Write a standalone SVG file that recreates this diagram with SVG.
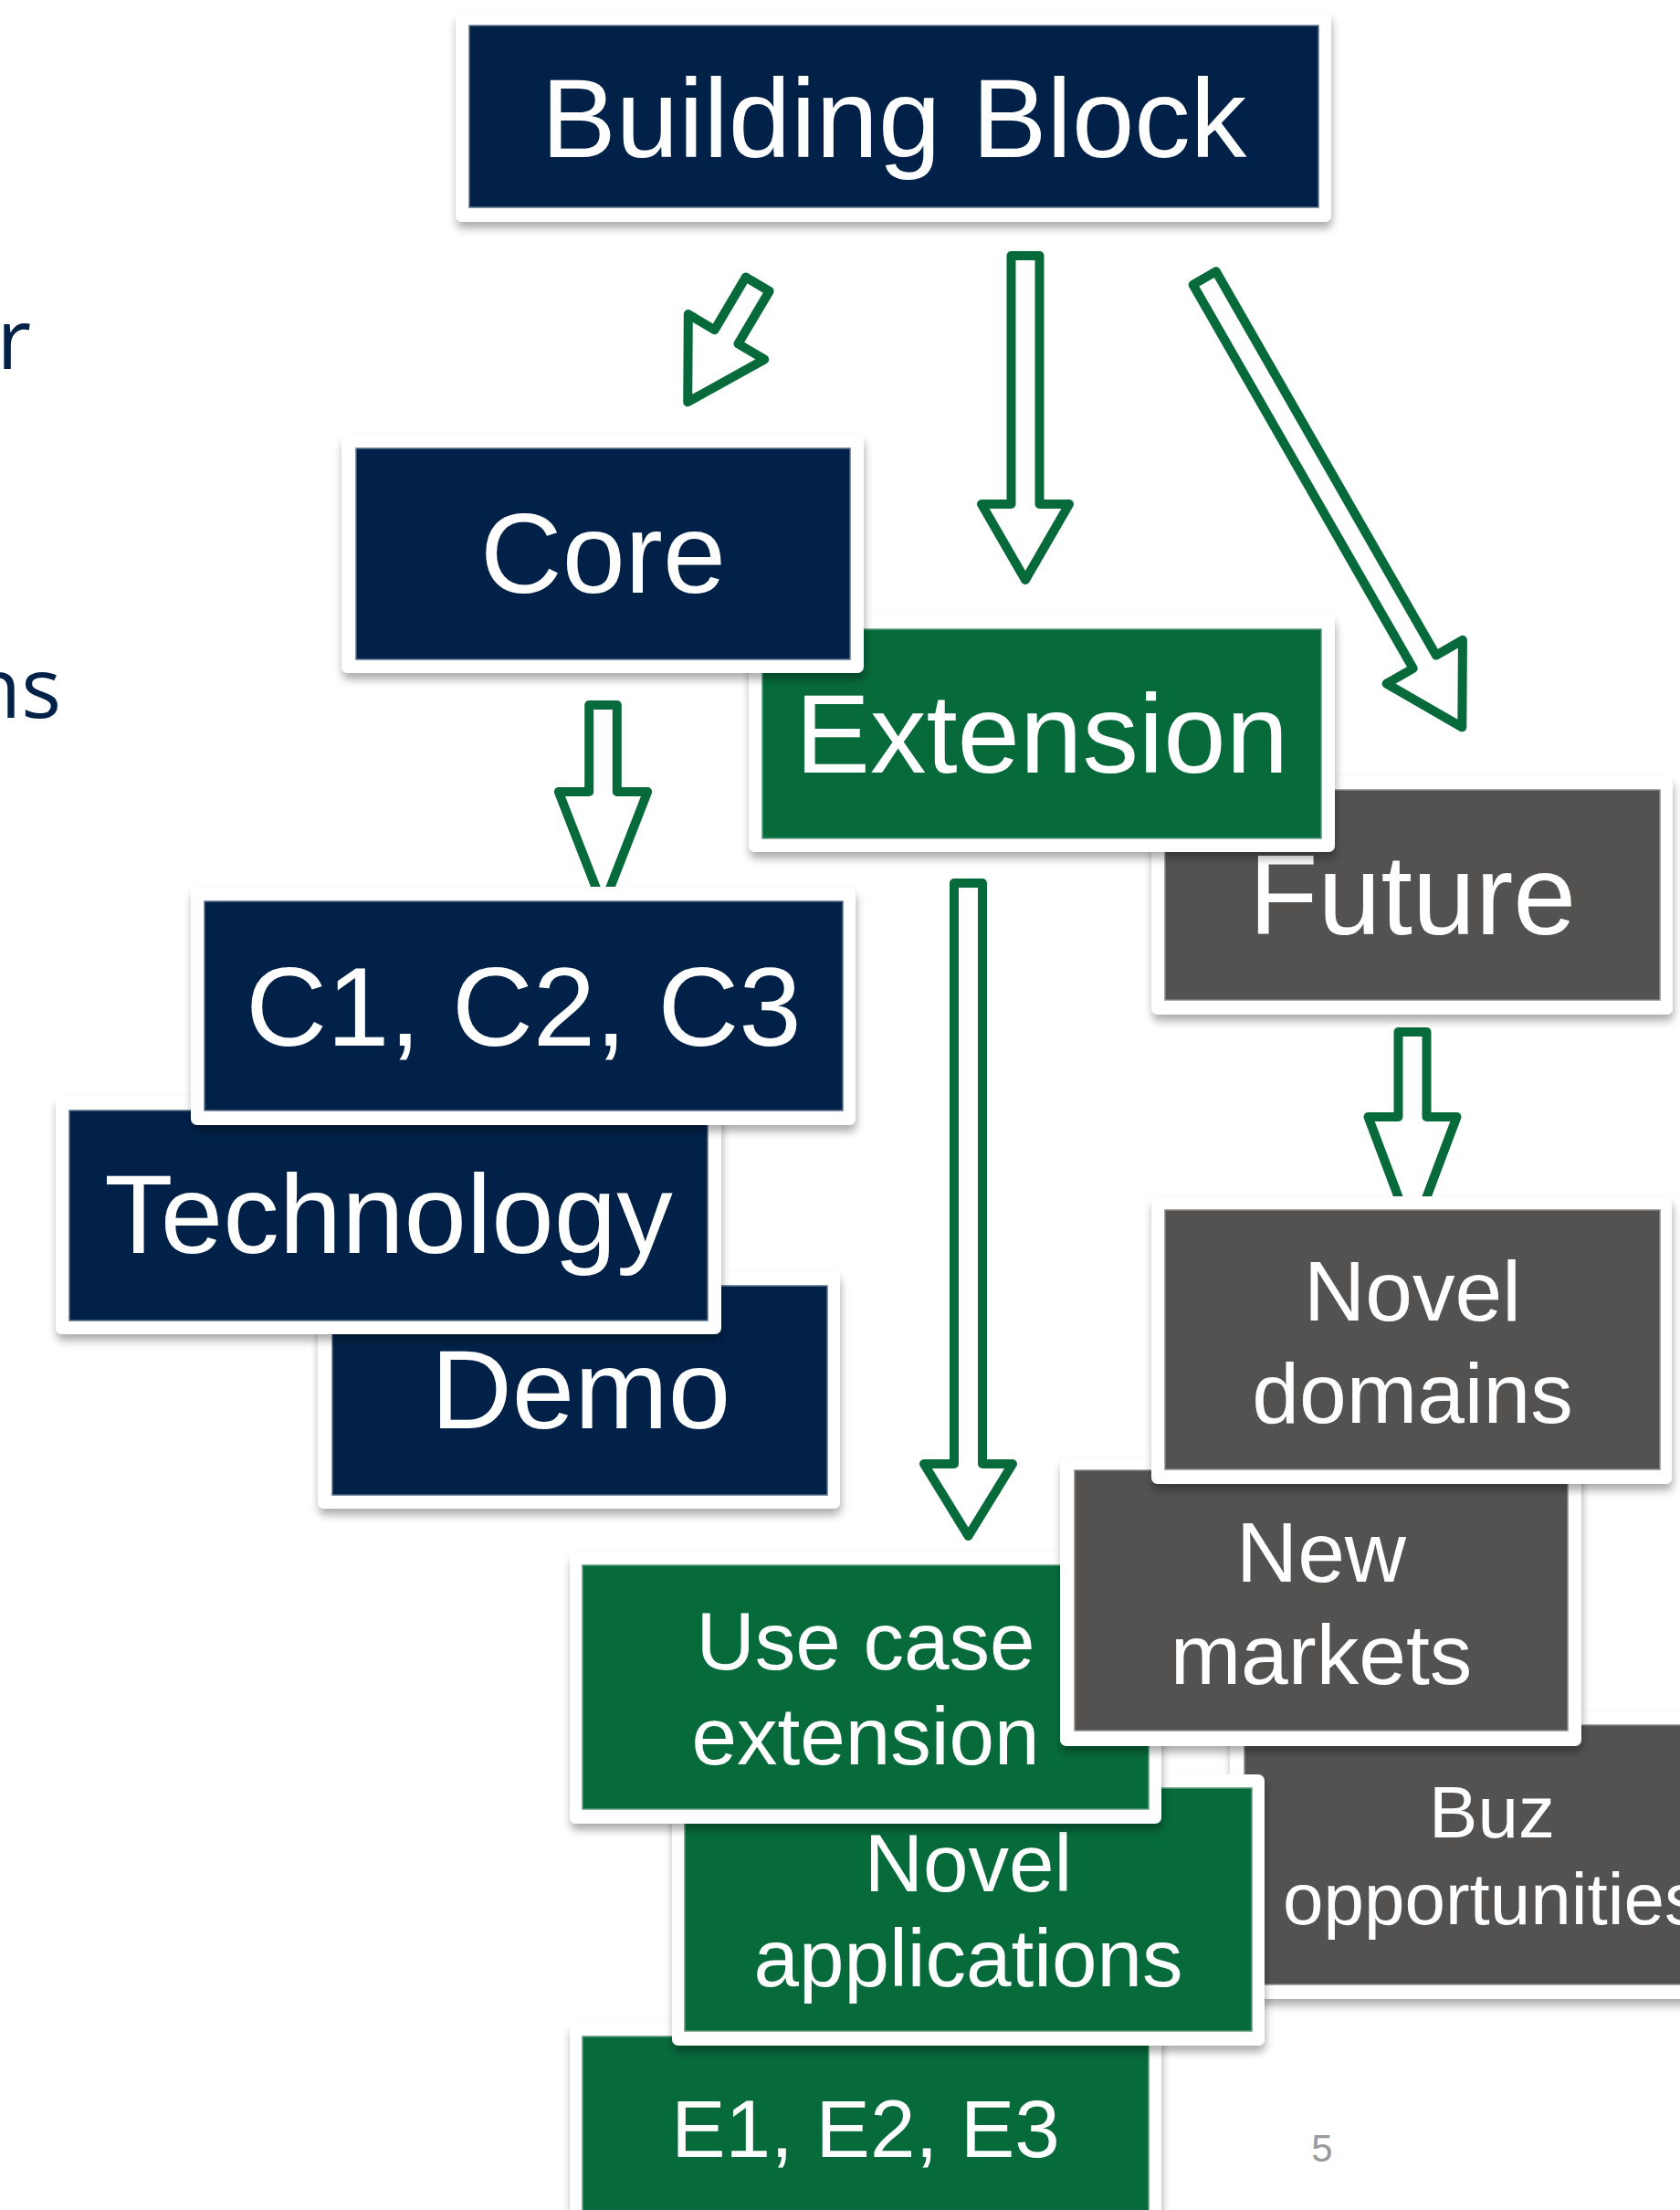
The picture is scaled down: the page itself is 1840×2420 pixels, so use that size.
<svg xmlns="http://www.w3.org/2000/svg" width="1840" height="2420" viewBox="0 0 1840 2420">
  <defs>
    <filter id="sh" x="-10%" y="-10%" width="120%" height="130%">
      <feDropShadow dx="1" dy="7" stdDeviation="5" flood-color="#000" flood-opacity="0.32"/>
    </filter>
    <style>
      .frame { fill: #ffffff; filter: url(#sh); }
      .navy { fill: #012149; stroke: #5a6f8c; stroke-width: 1.5; }
      .green { fill: #076A3B; stroke: #5a9a7a; stroke-width: 1.5; }
      .gray { fill: #535250; stroke: #8a8988; stroke-width: 1.5; }
      .lbl { font-family: "Liberation Sans", Arial, sans-serif; fill: #ffffff; text-anchor: middle; }
      .side { font-family: "Open Sans", "Noto Sans", sans-serif; fill: #012149; font-size: 92px; text-anchor: end; }
      .arrow { fill: #ffffff; stroke: #076A3B; stroke-width: 10; stroke-linejoin: round; }
      .pg { font-family: "Liberation Sans", Arial, sans-serif; fill: #9a9a9a; font-size: 42px; text-anchor: middle; }
    </style>
  </defs>
  <rect width="1840" height="2420" fill="#ffffff"/>

  <text class="side" x="34" y="404">r</text>
  <text class="side" x="67" y="786">ns</text>

  <g id="connectors">
    <path class="arrow" transform="translate(829.7,311.2) rotate(30.66)" d="M -15,0 L 15,0 L 15,67 L 48.5,67 L 0,150 L -48.5,67 L -15,67 Z"/>
    <path class="arrow" d="M 1107.5,280 L 1138.5,280 L 1138.5,552 L 1171,552 L 1123,635 L 1075,552 L 1107.5,552 Z"/>
    <path class="arrow" transform="translate(1319.2,304.5) rotate(-29.84)" d="M -14.5,0 L 14.5,0 L 14.5,484.5 L 48,484.5 L 0,567 L -48,484.5 L -14.5,484.5 Z"/>
    <path class="arrow" d="M 645.2,772 L 675.8,772 L 675.8,867 L 709.2,867 L 660.5,992 L 611.8,867 L 645.2,867 Z"/>
    <path class="arrow" d="M 1045,967 L 1076,967 L 1076,1603 L 1109,1603 L 1060.5,1682 L 1012,1603 L 1045,1603 Z"/>
    <path class="arrow" d="M 1531.5,1130 L 1562.5,1130 L 1562.5,1223 L 1595.5,1223 L 1547,1352 L 1498.5,1223 L 1531.5,1223 Z"/>
  </g>

  <g id="node-building-block">
    <rect class="frame" x="499" y="13" width="959" height="230" rx="7"/>
    <rect class="navy" x="514" y="28" width="930" height="199"/>
    <text class="lbl" x="979" y="172" font-size="123">Building Block</text>
  </g>

  <g id="node-future">
    <rect class="frame" x="1261" y="850" width="571" height="261" rx="7"/>
    <rect class="gray" x="1276" y="865" width="542" height="230"/>
    <text class="lbl" x="1547" y="1023" font-size="124">Future</text>
  </g>

  <g id="node-extension">
    <rect class="frame" x="820" y="673" width="642" height="260" rx="7"/>
    <rect class="green" x="835" y="689" width="612" height="229"/>
    <text class="lbl" x="1141" y="846" font-size="123">Extension</text>
  </g>

  <g id="node-core">
    <rect class="frame" x="374" y="476" width="572" height="261" rx="7"/>
    <rect class="navy" x="390" y="491" width="541" height="231"/>
    <text class="lbl" x="660.5" y="649" font-size="124">Core</text>
  </g>

  <g id="node-demo">
    <rect class="frame" x="348" y="1392" width="572" height="260" rx="7"/>
    <rect class="navy" x="364" y="1408" width="542" height="229"/>
    <text class="lbl" x="636" y="1564" font-size="123">Demo</text>
  </g>

  <g id="node-technology">
    <rect class="frame" x="61" y="1200" width="729" height="261" rx="7"/>
    <rect class="navy" x="76" y="1216" width="699" height="230"/>
    <text class="lbl" x="425.5" y="1372" font-size="123">Technology</text>
  </g>

  <g id="node-c123">
    <rect class="frame" x="209" y="971" width="728" height="261" rx="7"/>
    <rect class="navy" x="224" y="987" width="699" height="229"/>
    <text class="lbl" x="573.5" y="1145" font-size="123">C1, C2, C3</text>
  </g>

  <g id="node-e123">
    <rect class="frame" x="624" y="2215" width="648" height="240" rx="7"/>
    <rect class="green" x="638" y="2230" width="620" height="220"/>
    <text class="lbl" x="948" y="2362" font-size="89">E1, E2, E3</text>
  </g>

  <g id="node-buz">
    <rect class="frame" x="1347" y="1874" width="573" height="315" rx="7"/>
    <rect class="gray" x="1363" y="1889" width="542" height="284"/>
    <text class="lbl" x="1634" y="2012" font-size="80">Buz</text>
    <text class="lbl" x="1634" y="2107" font-size="80">opportunities</text>
  </g>

  <g id="node-novel-applications">
    <rect class="frame" x="736" y="1943" width="649" height="297" rx="7"/>
    <rect class="green" x="750" y="1958" width="621" height="266"/>
    <text class="lbl" x="1060.5" y="2071" font-size="89">Novel</text>
    <text class="lbl" x="1060.5" y="2175" font-size="89">applications</text>
  </g>

  <g id="node-use-case-extension">
    <rect class="frame" x="624" y="1700" width="648" height="297" rx="7"/>
    <rect class="green" x="638" y="1714" width="620" height="267"/>
    <text class="lbl" x="948" y="1828" font-size="89">Use case</text>
    <text class="lbl" x="948" y="1932" font-size="89">extension</text>
  </g>

  <g id="node-new-markets">
    <rect class="frame" x="1161" y="1596" width="571" height="316" rx="7"/>
    <rect class="gray" x="1177" y="1610" width="540" height="285"/>
    <text class="lbl" x="1447" y="1732" font-size="93">New</text>
    <text class="lbl" x="1447" y="1844" font-size="93">markets</text>
  </g>

  <g id="node-novel-domains">
    <rect class="frame" x="1261" y="1310" width="570" height="315" rx="7"/>
    <rect class="gray" x="1276" y="1325" width="542" height="284"/>
    <text class="lbl" x="1547" y="1446" font-size="93">Novel</text>
    <text class="lbl" x="1547" y="1558" font-size="93">domains</text>
  </g>

  <text class="pg" x="1448" y="2367">5</text>
</svg>
